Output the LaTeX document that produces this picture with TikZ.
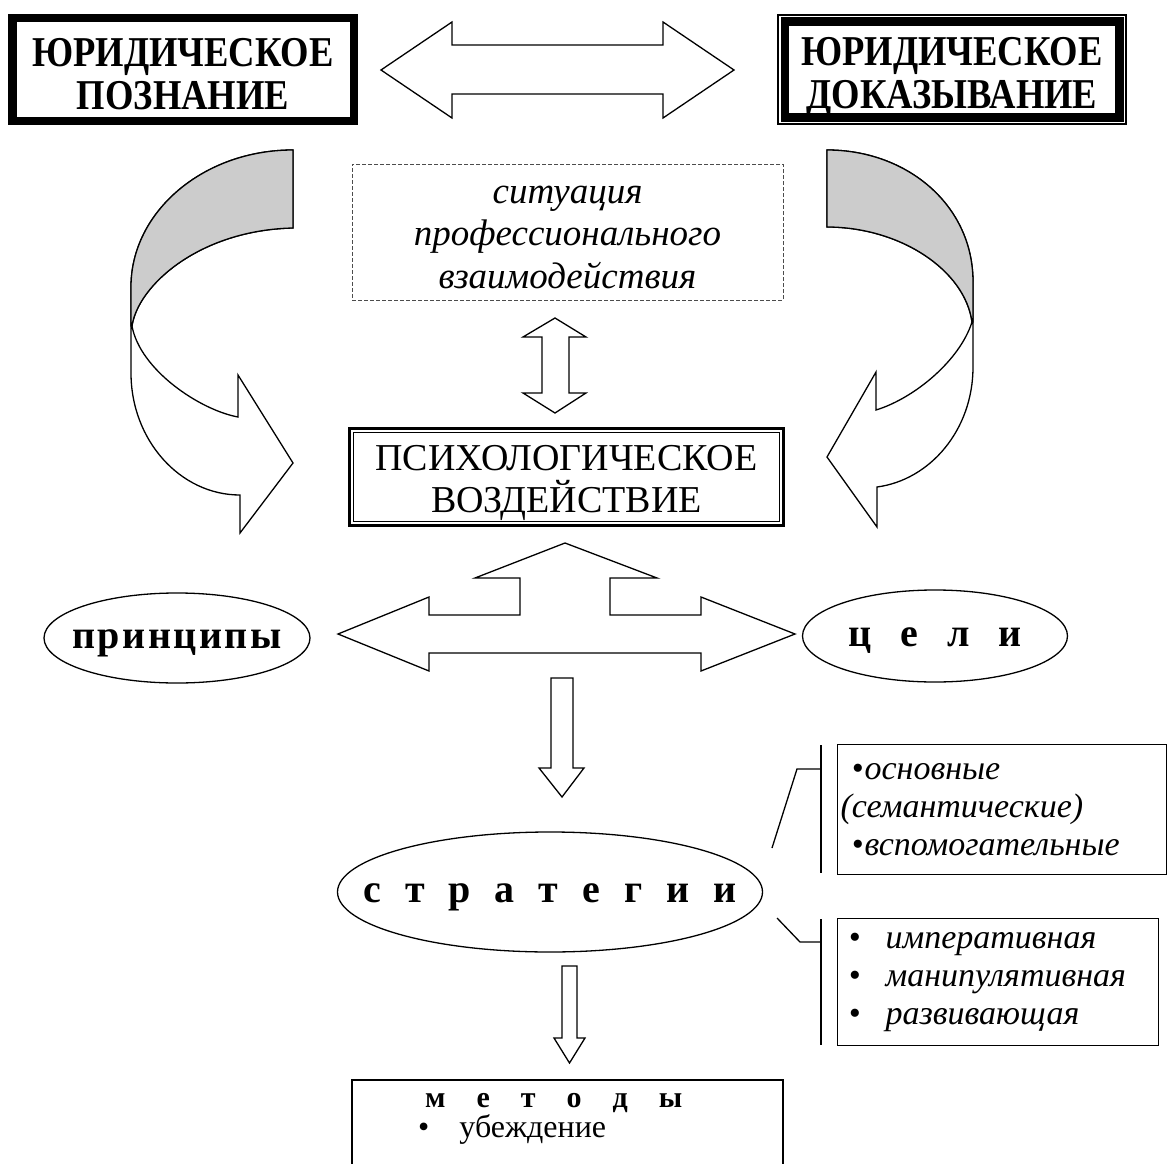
\documentclass[tikz,border=0pt]{standalone}
\usepackage{fontspec}
\setmainfont{Liberation Serif}
\newfontfamily\uzkij[FakeStretch=0.86]{Liberation Serif}
\usetikzlibrary{shapes.geometric}
\tikzset{
    tolstaja/.style={draw,line width=8.5pt,align=center,inner sep=0pt,font=\uzkij\bfseries\fontsize{42.5}{43}\selectfont},
    tonkaja/.style={draw,line width=1.5pt,align=center,inner sep=0pt,font=\uzkij\bfseries\fontsize{42.5}{43}\selectfont},
    dvojnaja/.style={draw,line width=3pt,align=center,inner sep=0pt,font=\fontsize{38}{42}\selectfont},
    punktir/.style={draw=black!70,dash pattern=on 4pt off 2pt,line width=1pt,align=center,inner sep=0pt,font=\itshape\fontsize{37}{42.5}\selectfont},
    oval/.style={ellipse,draw,line width=1.3pt,inner sep=0pt,font=\bfseries\fontsize{40}{44}\selectfont},
    spisok/.style={draw,line width=1.3pt,align=left,inner xsep=3pt,inner ysep=0pt,anchor=north west,font=\itshape\fontsize{34}{38}\selectfont},
    strelka/.style={draw,line width=1.3pt,fill=white,line join=miter},
    seraja/.style={draw,line width=1.3pt,fill=gray!40},
    liniya/.style={line width=1.3pt}
}
\newcommand{\razr}[2]{\makebox[0pt]{\raisebox{-10pt}[0pt][0pt]{\spaceskip=#1\relax #2}}}
\newcommand{\punkt}{\makebox[45pt][l]{\hspace*{8pt}\textbullet}}
\newcommand{\vys}[1]{\rule{0pt}{#1}}
\newcommand{\gl}[1]{\rule[-#1]{0pt}{#1}}

\begin{document}
\begin{tikzpicture}[x=1pt,y=-1pt]
\useasboundingbox (0,0) rectangle (1168,1164);

\node[tolstaja,minimum width=341.5pt,minimum height=102.5pt] (poznanie) at (183,69.5) {\vys{38pt}ЮРИДИЧЕСКОЕ\\ПОЗНАНИЕ};
\draw[line width=1.5pt] ([shift={(7,7)}]poznanie.north west) rectangle ([shift={(-7,-7)}]poznanie.south east);

\node[tonkaja,minimum width=348pt,minimum height=109pt] (dokaz) at (952,69.5) {\vys{48pt}ЮРИДИЧЕСКОЕ\\ДОКАЗЫВАНИЕ\gl{14pt}};
\draw[line width=8.5pt] ([shift={(7.5,7.5)}]dokaz.north west) rectangle ([shift={(-7.5,-7.5)}]dokaz.south east);

\draw[strelka] (381,70) -- (452,22) -- (452,45) -- (663,45) -- (663,22) -- (734,70) -- (663,118) -- (663,94) -- (452,94) -- (452,118) -- cycle;

\node[punktir,minimum width=431pt,minimum height=130pt] (situacija) at (567.5,232) {\vys{39pt}ситуация\\профессионального\\взаимодействия\gl{12pt}};

\draw[strelka] (555,318) -- (586,337) -- (569,337) -- (569,393) -- (586,393) -- (555,413) -- (523,393) -- (542,393) -- (542,337) -- (523,337) -- cycle;

\node[dvojnaja,minimum width=434pt,minimum height=97pt] (vozdejstvie) at (566.5,477) {\vys{40pt}ПСИХОЛОГИЧЕСКОЕ\\ВОЗДЕЙСТВИЕ\gl{12pt}};
\draw[line width=1.2pt] ([shift={(5.5,5.5)}]vozdejstvie.north west) rectangle ([shift={(-5.5,-5.5)}]vozdejstvie.south east);

\draw[strelka] (293,228) -- (293,150) .. controls (203,150) and (131,212) .. (131,287) -- (131,373) .. controls (131,440) and (180,495) .. (240,495) -- (240,533) -- (293,463) -- (238,375) -- (238,417) .. controls (200,410) and (140,370) .. (132,326) .. controls (138,285) and (200,230) .. (293,228) -- cycle;
\draw[seraja] (293,150) .. controls (203,150) and (131,212) .. (131,287) -- (131,326) -- (132,326) .. controls (138,285) and (200,230) .. (293,228) -- cycle;

\draw[strelka] (827,227) -- (827,150) .. controls (907,150) and (973,205) .. (973,282) -- (973,367) .. controls (973,430) and (930,480) .. (877,487) -- (877,527) -- (827,457) -- (876,372) -- (876,410) .. controls (915,398) and (960,360) .. (972,322) .. controls (965,270) and (900,227) .. (827,227) -- cycle;
\draw[seraja] (827,150) .. controls (907,150) and (973,205) .. (973,282) -- (973,322) -- (972,322) .. controls (965,270) and (900,227) .. (827,227) -- cycle;

\draw[strelka] (338,634) -- (429,597) -- (429,615) -- (520,615) -- (520,578) -- (475,578) -- (565,543) -- (657,578) -- (610,578) -- (610,615) -- (701,615) -- (701,597) -- (795,634) -- (701,671) -- (701,653) -- (429,653) -- (429,671) -- cycle;

\node[oval,minimum width=266pt,minimum height=90pt] (principy) at (177,638) {\razr{2.5pt}{п р и н ц и п ы}};
\node[oval,minimum width=265pt,minimum height=92pt] (celi) at (935,636) {\razr{29pt}{ц е л и}};

\draw[strelka] (551,678) -- (573,678) -- (573,768) -- (584,768) -- (562,797) -- (539,768) -- (551,768) -- cycle;

\node[oval,minimum width=425pt,minimum height=120pt] (strategii) at (550,892) {\razr{24pt}{с т р а т е г и и}};

\node[spisok,text width=323pt,minimum height=130pt] (vidy) at (837,744) {\hspace*{11pt}\textbullet\hspace{1pt}основные\\(семантические)\\\hspace*{11pt}\textbullet\hspace{1pt}вспомогательные};
\node[spisok,text width=315pt,minimum height=127pt] (tipy) at (837,918) {\punkt императивная\\\punkt манипулятивная\\\punkt развивающая};

\coordinate (skobaA1) at (821,745);
\coordinate (skobaA2) at (821,873);
\coordinate (uzelA) at (821,769);
\coordinate (izgibA) at (797,769);
\coordinate (konecA) at (772,848);
\coordinate (skobaB1) at (821,919);
\coordinate (skobaB2) at (821,1045);
\coordinate (uzelB) at (821,942);
\coordinate (izgibB) at (800,942);
\coordinate (konecB) at (777,918);
\draw[liniya] (skobaA1) -- (skobaA2);
\draw[liniya] (uzelA) -- (izgibA) -- (konecA);
\draw[liniya] (skobaB1) -- (skobaB2);
\draw[liniya] (uzelB) -- (izgibB) -- (konecB);

\draw[strelka] (562,966) -- (577,966) -- (577,1038) -- (585,1038) -- (569.5,1063) -- (554,1038) -- (562,1038) -- cycle;

\node[anchor=north west,align=left,inner sep=0pt,font=\fontsize{32}{30}\selectfont] (metody) at (418,1093) {\hspace*{7pt}{\bfseries\fontsize{30}{30}\selectfont\spaceskip=31pt\relax м е т о д ы}\\\textbullet\hspace{30pt}убеждение};
\draw[liniya] (352,1164) |- (783,1080) -- (783,1164);
\end{tikzpicture}
\end{document}
